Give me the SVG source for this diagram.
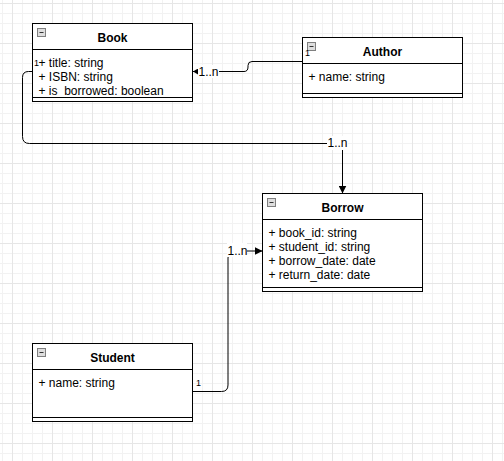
<svg xmlns="http://www.w3.org/2000/svg" width="504" height="461" viewBox="0 0 504 461">
  <defs>
    <pattern id="gridMinor" patternUnits="userSpaceOnUse" x="2" y="3" width="10" height="10">
      <rect x="0" y="0" width="1" height="10" fill="#f2f2f2"/>
      <rect x="0" y="0" width="10" height="1" fill="#f2f2f2"/>
    </pattern>
    <pattern id="gridMajor" patternUnits="userSpaceOnUse" x="12" y="3" width="40" height="40">
      <rect x="0" y="0" width="1" height="40" fill="#e6e6e6"/>
      <rect x="0" y="0" width="40" height="1" fill="#e6e6e6"/>
    </pattern>
    <marker id="arrowBig" viewBox="0 0 8 8" refX="8" refY="4" markerWidth="8" markerHeight="8" markerUnits="userSpaceOnUse" orient="auto">
      <path d="M0,0 L8,4 L0,8 Z" fill="#000"/>
    </marker>
    <marker id="arrowSmall" viewBox="0 0 5 6" refX="5" refY="3" markerWidth="5" markerHeight="6" markerUnits="userSpaceOnUse" orient="auto">
      <path d="M0,0 L5,3 L0,6 Z" fill="#000"/>
    </marker>
  </defs>
  <style>
    .box { fill: #fff; stroke: #000; stroke-width: 1; }
    .sep { stroke: #000; stroke-width: 1; fill: none; }
    .title { font-family: "Liberation Sans", Arial, sans-serif; font-size: 12px; font-weight: bold; fill: #000; text-anchor: middle; }
    .attr { font-family: "Liberation Sans", Arial, sans-serif; font-size: 12px; fill: #000; }
    .mult { font-family: "Liberation Sans", Arial, sans-serif; font-size: 12px; fill: #000; }
    .mult-s { font-family: "Liberation Sans", Arial, sans-serif; font-size: 9px; fill: #000; }
    .icon { fill: #dedede; stroke: #7f7f7f; stroke-width: 1; }
    .icon-bar { stroke: #333; stroke-width: 1; }
    .edge { fill: none; stroke: #000; stroke-width: 1; }
    .lblbg { fill: #fff; }
  </style>

  <!-- background grid -->
  <rect x="0" y="0" width="504" height="461" fill="#fff"/>
  <rect x="0" y="0" width="504" height="461" fill="url(#gridMinor)"/>
  <rect x="0" y="0" width="504" height="461" fill="url(#gridMajor)"/>

  <!-- Book -->
  <g id="book">
    <rect class="box" x="32.5" y="23.5" width="160" height="78"/>
    <line class="sep" x1="32.5" y1="49.5" x2="192.5" y2="49.5"/>
    <line class="sep" x1="32.5" y1="97.5" x2="192.5" y2="97.5"/>
    <rect class="icon" x="37.5" y="28.5" width="8" height="8"/>
    <line class="icon-bar" x1="39.5" y1="32.5" x2="43.5" y2="32.5"/>
    <text class="title" x="112.5" y="41.5">Book</text>
    <text class="attr" x="38.5" y="67">+ title: string</text>
    <text class="attr" x="38.5" y="81">+ ISBN: string</text>
    <text class="attr" x="38.5" y="95">+ is_borrowed: boolean</text>
  </g>

  <!-- Author -->
  <g id="author">
    <rect class="box" x="302.5" y="37.5" width="160" height="60"/>
    <line class="sep" x1="302.5" y1="63.5" x2="462.5" y2="63.5"/>
    <line class="sep" x1="302.5" y1="93.5" x2="462.5" y2="93.5"/>
    <rect class="icon" x="307.5" y="42.5" width="8" height="8"/>
    <line class="icon-bar" x1="309.5" y1="46.5" x2="313.5" y2="46.5"/>
    <text class="title" x="382.5" y="56">Author</text>
    <text class="attr" x="308.5" y="81">+ name: string</text>
  </g>

  <!-- Borrow -->
  <g id="borrow">
    <rect class="box" x="262.5" y="193.5" width="160" height="98"/>
    <line class="sep" x1="262.5" y1="219.5" x2="422.5" y2="219.5"/>
    <line class="sep" x1="262.5" y1="287.5" x2="422.5" y2="287.5"/>
    <rect class="icon" x="267.5" y="198.5" width="8" height="8"/>
    <line class="icon-bar" x1="269.5" y1="202.5" x2="273.5" y2="202.5"/>
    <text class="title" x="342.5" y="212">Borrow</text>
    <text class="attr" x="268.5" y="237">+ book_id: string</text>
    <text class="attr" x="268.5" y="251">+ student_id: string</text>
    <text class="attr" x="268.5" y="265">+ borrow_date: date</text>
    <text class="attr" x="268.5" y="279">+ return_date: date</text>
  </g>

  <!-- Student -->
  <g id="student">
    <rect class="box" x="32.5" y="343.5" width="160" height="78"/>
    <line class="sep" x1="32.5" y1="369.5" x2="192.5" y2="369.5"/>
    <line class="sep" x1="32.5" y1="417.5" x2="192.5" y2="417.5"/>
    <rect class="icon" x="37.5" y="348.5" width="8" height="8"/>
    <line class="icon-bar" x1="39.5" y1="352.5" x2="43.5" y2="352.5"/>
    <text class="title" x="112.5" y="362">Student</text>
    <text class="attr" x="38.5" y="387">+ name: string</text>
  </g>

  <!-- connectors, drawn above the classes so end labels stay visible -->
  <g id="connectors">
    <!-- Author -> Book -->
    <path class="edge" d="M302.5,61.5 H252 Q248,61.5 248,65.5 V67 Q248,71.5 244,71.5 H193" marker-end="url(#arrowSmall)"/>
    <rect class="lblbg" x="198" y="65" width="21" height="13"/>
    <text class="mult" x="198.5" y="76">1..n</text>
    <text class="mult-s" x="305" y="55.5">1</text>

    <!-- Book -> Borrow -->
    <path class="edge" d="M32.5,71.5 H28.5 Q22.5,71.5 22.5,77.5 V136.5 Q22.5,143.5 29.5,143.5 H342.5 V193.5" marker-end="url(#arrowBig)"/>
    <rect class="lblbg" x="327" y="136" width="21" height="14"/>
    <text class="mult" x="327.5" y="147">1..n</text>
    <text class="mult-s" x="34" y="66">1</text>

    <!-- Student -> Borrow -->
    <path class="edge" d="M192.5,391.5 H221.5 Q228,391.5 228,385 V258 Q228,251 235,251 H262.5" marker-end="url(#arrowBig)"/>
    <rect class="lblbg" x="227" y="243" width="20" height="14"/>
    <text class="mult" x="227.5" y="254.5">1..n</text>
    <text class="mult-s" x="196" y="386">1</text>
  </g>
</svg>
